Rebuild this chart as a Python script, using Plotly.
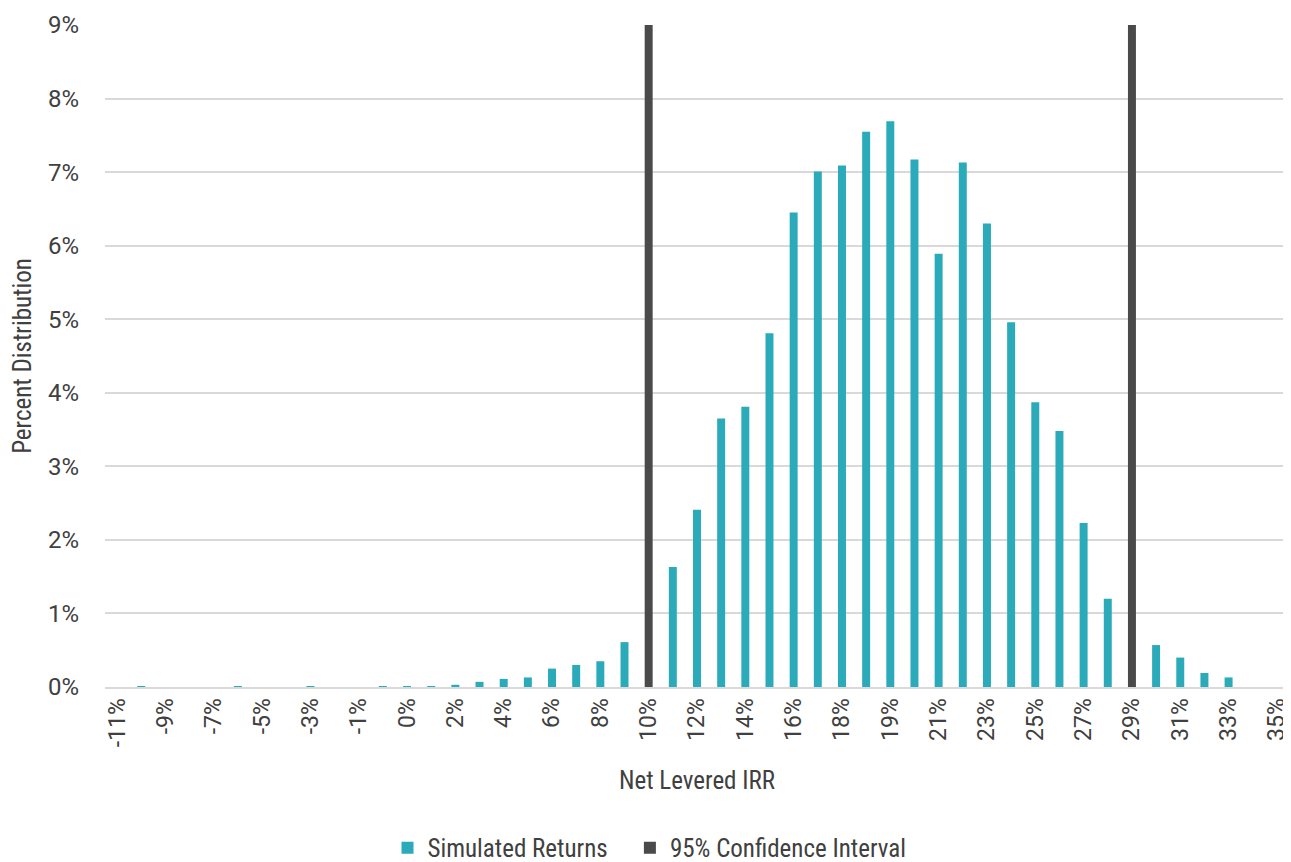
import plotly.graph_objects as go

# 49 IRR bins (every other one labelled on the axis)
bins = ["-11%", "-10%", "-9%", "-8%", "-7%", "-6%", "-5%", "-4%", "-3%", "-2%",
        "-1%", "-0.5%", "0%", "1%", "2%", "3%", "4%", "5%", "6%", "7%",
        "8%", "9%", "10%", "11%", "12%", "13%", "14%", "15%", "16%", "17%",
        "18%", "18.5%", "19%", "20%", "21%", "22%", "23%", "24%", "25%", "26%",
        "27%", "28%", "29%", "30%", "31%", "32%", "33%", "34%", "35%"]

tick_bins = ["-11%", "-9%", "-7%", "-5%", "-3%", "-1%", "0%", "2%", "4%", "6%",
             "8%", "10%", "12%", "14%", "16%", "18%", "19%", "21%", "23%", "25%",
             "27%", "29%", "31%", "33%", "35%"]

# Simulated returns, percent of simulations per bin
simulated = [0.00, 0.01, 0.00, 0.00, 0.00, 0.01, 0.00, 0.00, 0.01, 0.00,
             0.00, 0.01, 0.01, 0.01, 0.03, 0.07, 0.11, 0.13, 0.25, 0.30,
             0.35, 0.61, 0.00, 1.63, 2.41, 3.65, 3.81, 4.81, 6.45, 7.01,
             7.09, 7.55, 7.69, 7.17, 5.89, 7.13, 6.30, 4.96, 3.87, 3.48,
             2.23, 1.20, 0.00, 0.57, 0.40, 0.19, 0.13, 0.00, 0.00]

# 95% confidence interval bounds drawn as full-height bars
ci_bins = ["10%", "29%"]
ci_values = [9, 9]

TEAL = "#2BAAB9"
DARK = "#4A4A4A"
FONT = "Roboto Condensed, Liberation Sans Narrow, DejaVu Sans Condensed, Roboto, sans-serif"
TICKFONT = "Roboto, sans-serif"
TXT = "#404040"
PAD = "\u00a0" * 3  # extra spacing between legend entries

fig = go.Figure()
fig.add_trace(go.Bar(x=bins, y=simulated, name="Simulated Returns" + PAD,
                     marker=dict(color=TEAL, line=dict(width=0)), width=0.33))
fig.add_trace(go.Bar(x=ci_bins, y=ci_values, name="95% Confidence Interval",
                     marker=dict(color=DARK, line=dict(width=0)), width=0.33))

fig.update_layout(
    width=1283, height=854,
    margin=dict(l=97, r=2, t=17, b=175),
    paper_bgcolor="white", plot_bgcolor="white",
    barmode="overlay",
    font=dict(family=FONT, size=24, color=TXT),
    showlegend=True,
    legend=dict(orientation="h", x=0.5, xref="container", xanchor="center",
                y=0.0165, yref="container", yanchor="middle",
                font=dict(family=FONT, size=25, color=TXT), itemwidth=30),
    xaxis=dict(type="category", categoryorder="array", categoryarray=bins,
               tickmode="array", tickvals=tick_bins, ticktext=tick_bins,
               tickangle=-90, showgrid=False, showline=True, linecolor="#D9D9D9",
               linewidth=2, ticks="", automargin=False,
               tickfont=dict(family=TICKFONT, size=23, color=TXT),
               title=dict(text="Net Levered IRR", font=dict(family=FONT, size=25, color=TXT), standoff=25),
               range=[-0.5, len(bins) - 0.5]),
    yaxis=dict(range=[0, 9], dtick=1, ticksuffix="%", showgrid=True,
               gridcolor="#D9D9D9", gridwidth=1.5, zeroline=False, showline=False,
               automargin=False,
               tickfont=dict(family=TICKFONT, size=24, color=TXT), ticklabelstandoff=25,
               title=dict(text="Percent Distribution", font=dict(family=FONT, size=25, color=TXT), standoff=9)),
)

fig.write_html("out.html")
